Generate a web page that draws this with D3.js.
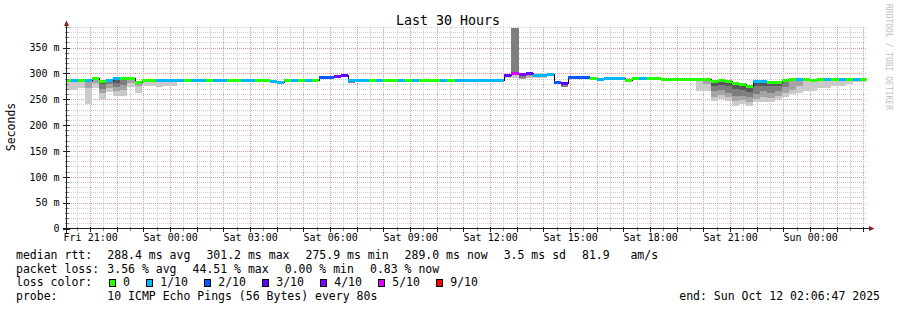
<!DOCTYPE html>
<html>
<head>
<meta charset="utf-8">
<title>Last 30 Hours</title>
<script src="https://cdn.jsdelivr.net/npm/d3@7"></script>
<style>
    body { margin: 0; background: #fff; }
    svg text { font-family: "DejaVu Sans Mono", monospace; fill: #000; }
    .crisp { shape-rendering: crispEdges; }
</style>
</head>
<body>
<svg id="chart" width="897" height="310"></svg>
<script>
var _ = null;

// time window of the graph and the 16 minute consolidation bins
var startTime = new Date(2025, 9, 10, 20, 6, 47);
var endTime = new Date(2025, 9, 12, 2, 6, 47);
var binStart = new Date(2025, 9, 10, 20, 0, 0);
var binMinutes = 16;

// median rtt per bin (ms)
var median = [288,288,288,288,291,286,288,291,291,291,
              284,288,288,288,288,288,288,288,288,288,
              288,288,288,288,288,288,288,288,288,285,
              284,288,288,288,288,288,293,293,295,297,
              288,288,288,288,288,288,288,288,288,288,
              288,288,288,288,288,288,288,288,288,288,
              288,288,296,301,298,301,297,297,298,283,
              281,294,294,293,292,289,291,291,291,287,
              291,291,291,291,289,289,289,289,289,289,
              289,285,287,285,282,280,276,285,285,284,
              283,287,289,289,289,287,289,289,289,289,
              289,289,289];

// lost pings (out of 10) per bin
var loss = [0,1,0,1,0,0,1,1,0,0,
            0,0,0,1,1,1,1,0,1,1,
            0,1,1,0,0,1,1,0,0,1,
            1,0,1,0,1,0,2,2,4,3,
            1,1,1,0,1,0,0,1,0,1,
            0,0,0,1,0,1,1,1,1,1,
            1,1,3,5,4,3,1,1,1,2,
            3,2,2,2,0,1,1,1,1,0,
            0,1,0,0,0,0,0,0,0,0,
            0,0,0,0,0,0,0,1,1,0,
            0,0,0,1,0,0,0,1,0,1,
            0,1,0];

// smoke: lower edges of the ping bands (outer -> inner), ms
var smokeLo1 = [268,268,271,241,271,251,265,257,257,273,
                262,276,276,273,276,276,_,_,_,_,
                _,_,_,_,_,_,_,_,_,_,
                _,_,_,_,_,_,_,_,_,_,
                _,_,_,_,_,_,_,_,_,_,
                _,_,_,_,_,_,_,_,_,_,
                _,_,291,291,_,291,292,292,_,_,
                _,_,_,_,_,_,_,_,_,_,
                _,_,_,_,_,_,_,_,_,266,
                266,247,250,247,237,241,237,244,245,245,
                250,255,260,263,266,266,271,271,275,275,
                280,283,283];
var smokeLo2 = [_,_,_,272,282,262,271,266,268,281,
                276,_,_,_,_,_,_,_,_,_,
                _,_,_,_,_,_,_,_,_,_,
                _,_,_,_,_,_,_,_,_,_,
                _,_,_,_,_,_,_,_,_,_,
                _,_,_,_,_,_,_,_,_,_,
                _,_,_,_,290,294,_,_,_,_,
                _,_,_,_,_,_,_,_,_,_,
                _,_,_,_,_,_,_,_,_,_,
                280,254,258,254,247,249,244,250,254,252,
                257,263,268,275,_,_,_,_,_,_,
                _,_,_];
var smokeLo3 = [_,_,_,283,_,270,279,273,278,_,
                _,_,_,_,_,_,_,_,_,_,
                _,_,_,_,_,_,_,_,_,_,
                _,_,_,_,_,_,_,_,_,_,
                281,_,_,_,_,_,_,_,_,_,
                _,_,_,_,_,_,_,_,_,_,
                _,_,_,_,292,_,_,_,_,_,
                273,_,_,_,_,_,_,_,_,_,
                _,_,_,_,_,_,_,_,_,_,
                _,266,268,263,257,257,254,260,266,262,
                266,273,_,_,_,_,_,_,_,_,
                _,_,_];
var smokeLo4 = [_,_,_,_,_,279,_,281,_,_,
                _,_,_,_,_,_,_,_,_,_,
                _,_,_,_,_,_,_,_,_,_,
                _,_,_,284,_,_,_,_,_,_,
                _,_,_,_,_,_,_,_,_,_,
                _,_,_,_,_,_,_,_,_,_,
                _,_,_,_,_,_,_,_,_,279,
                _,_,_,_,_,_,_,_,_,_,
                _,_,_,_,_,_,_,_,_,_,
                _,276,278,275,270,268,265,275,276,275,
                276,_,_,_,_,_,_,_,_,_,
                _,_,_];
// upper edges where the smoke rises above the median
var smokeHi1 = [_,_,_,_,_,_,_,_,_,_,
                _,_,_,_,_,_,_,_,_,_,
                _,_,_,_,_,_,_,_,_,_,
                _,_,_,_,_,_,_,_,_,_,
                _,_,_,_,_,_,_,_,_,_,
                _,_,_,_,_,_,_,_,_,_,
                _,_,_,_,_,_,301,301,_,_,
                _,_,_,_,_,_,_,_,_,291,
                _,_,_,_,_,_,_,_,_,_,
                _,_,_,_,_,_,_,_,_,_,
                _,_,_,_,_,_,_,_,_,_,
                _,_,_];
var smokeHi3 = [_,_,_,_,_,_,_,_,_,_,
                _,_,_,_,_,_,_,_,_,_,
                _,_,_,_,_,_,_,_,_,_,
                _,_,_,_,_,_,_,_,_,_,
                _,_,_,_,_,_,_,_,_,_,
                _,_,_,_,_,_,_,_,_,_,
                _,_,_,387,_,_,_,_,_,_,
                _,_,_,_,_,_,_,_,_,_,
                _,_,_,_,_,_,_,_,_,_,
                _,_,_,_,_,_,_,_,_,_,
                _,_,_,_,_,_,_,_,_,_,
                _,_,_];

// loss colour buckets
var lossKeys = [0, 1, 2, 3, 4, 5, 9];
var lossLabels = ["0", "1/10", "2/10", "3/10", "4/10", "5/10", "9/10"];
var lossColors = ["#26ff00", "#00b8ff", "#0059ff", "#5e00ff", "#7e00ff", "#dd00ff", "#ff0000"];

// legend values
var rttStats = ["288.4 ms avg", "301.2 ms max", "275.9 ms min", "289.0 ms now", "3.5 ms sd", "81.9   am/s"];
var lossStats = ["3.56 % avg", "44.51 % max", "0.00 % min", "0.83 % now"];
var probeText = "10 ICMP Echo Pings (56 Bytes) every 80s";
var endText = "end: Sun Oct 12 02:06:47 2025";

var svg = d3.select("#chart");
var left = 66.5, right = 866.5, bottom = 228.5;

var x = d3.scaleTime().domain([startTime, endTime]).range([left, right]);
var y = d3.scaleLinear().domain([0, 390]).range([bottom, 26.9]);
var top_ = y(390);

function binTime(i) {
    return new Date(binStart.getTime() + i * binMinutes * 60000);
}
function lossColor(v) {
    for (var k = 0; k < lossKeys.length; k++) {
        if (v <= lossKeys[k]) return lossColors[k];
    }
    return lossColors[lossColors.length - 1];
}
var bins = d3.range(median.length);

svg.append("defs").append("clipPath").attr("id", "plotclip")
    .append("rect")
    .attr("x", left).attr("y", top_)
    .attr("width", right - left).attr("height", bottom - top_);

// grid (dotted, drawn from whole pixels so the dots stay crisp)
var grid = svg.append("g").attr("class", "crisp");
var yMinor = d3.range(10, 391, 10).filter(function (v) { return v % 50 != 0; });
var yMajor = d3.range(50, 391, 50);
var xMinor = d3.timeMinute.every(30).range(startTime, endTime)
    .filter(function (d) { return d.getMinutes() != 0; });
var xMajor = d3.timeHour.range(startTime, endTime);
var gx0 = 67, gx1 = 867, gy0 = 27, gy1 = 228;

function hLines(vals, color) {
    grid.append("g").selectAll("line").data(vals).enter().append("line")
        .attr("x1", gx0).attr("x2", gx1)
        .attr("y1", function (d) { return Math.round(y(d)) + 0.5; })
        .attr("y2", function (d) { return Math.round(y(d)) + 0.5; })
        .attr("stroke", color).attr("stroke-dasharray", "1,1");
}
function vLines(vals, color) {
    grid.append("g").selectAll("line").data(vals).enter().append("line")
        .attr("y1", gy0).attr("y2", gy1)
        .attr("x1", function (d) { return Math.round(x(d)) + 0.5; })
        .attr("x2", function (d) { return Math.round(x(d)) + 0.5; })
        .attr("stroke", color).attr("stroke-dasharray", "1,1");
}
hLines(yMinor, "#cdcdcd");
vLines(xMinor, "#cdcdcd");
hLines(yMajor, "#ec9797");
vLines(xMajor, "#ec9797");

// smoke
var plotG = svg.append("g").attr("clip-path", "url(#plotclip)");
var shades = [
    {lo: smokeLo1, hi: smokeHi1, color: "#cacaca"},
    {lo: smokeLo2, hi: null, color: "#a4a4a4"},
    {lo: smokeLo3, hi: smokeHi3, color: "#7e7e7e"},
    {lo: smokeLo4, hi: null, color: "#585858"}
];
shades.forEach(function (s) {
    var idx = bins.filter(function (i) {
        return s.lo[i] != null || (s.hi && s.hi[i] != null);
    });
    plotG.append("g").attr("class", "crisp").selectAll("rect").data(idx).enter().append("rect")
        .attr("x", function (i) { return Math.round(x(binTime(i))); })
        .attr("width", function (i) { return Math.round(x(binTime(i + 1))) - Math.round(x(binTime(i))); })
        .attr("y", function (i) {
            var h = (s.hi && s.hi[i] != null) ? s.hi[i] : median[i];
            return Math.round(y(h));
        })
        .attr("height", function (i) {
            var h = (s.hi && s.hi[i] != null) ? s.hi[i] : median[i];
            var l = s.lo[i] != null ? s.lo[i] : median[i];
            return Math.max(0, Math.round(y(l)) - Math.round(y(h)));
        })
        .attr("fill", s.color);
});

// median step line
var pts = bins.map(function (i) { return [binTime(i), median[i]]; });
pts.push([binTime(median.length), median[median.length - 1]]);
plotG.append("path")
    .datum(pts)
    .attr("class", "crisp")
    .attr("fill", "none")
    .attr("stroke", "#000")
    .attr("d", d3.line()
        .x(function (d) { return Math.round(x(d[0])) + 0.5; })
        .y(function (d) { return Math.round(y(d[1])) + 0.5; })
        .curve(d3.curveStepAfter));

// median band coloured by loss
plotG.append("g").attr("class", "crisp").selectAll("rect").data(bins).enter().append("rect")
    .attr("x", function (i) { return Math.round(x(binTime(i))); })
    .attr("width", function (i) { return Math.round(x(binTime(i + 1))) - Math.round(x(binTime(i))); })
    .attr("y", function (i) { return Math.round(y(median[i])) - 1; })
    .attr("height", 3)
    .attr("fill", function (i) { return lossColor(loss[i]); });

// axis ticks
var ticks = svg.append("g").attr("class", "crisp");
ticks.selectAll(".ty").data(yMinor.concat(yMajor).concat([0])).enter().append("line")
    .attr("x1", function (d) { return d % 50 == 0 ? left - 4 : left - 2; })
    .attr("x2", function (d) { return d % 50 == 0 ? left + 3 : left + 2; })
    .attr("y1", function (d) { return Math.round(y(d)) + 0.5; })
    .attr("y2", function (d) { return Math.round(y(d)) + 0.5; })
    .attr("stroke", function (d) { return d % 50 == 0 ? "#1f1f1f" : "#888"; });
ticks.selectAll(".tx").data(xMinor.concat(xMajor)).enter().append("line")
    .attr("y1", bottom - 2)
    .attr("y2", function (d) { return d.getMinutes() == 0 ? bottom + 3 : bottom + 2; })
    .attr("x1", function (d) { return Math.round(x(d)) + 0.5; })
    .attr("x2", function (d) { return Math.round(x(d)) + 0.5; })
    .attr("stroke", function (d) { return d.getMinutes() == 0 ? "#1f1f1f" : "#888"; });

// axis lines and arrows
svg.append("line").attr("class", "crisp")
    .attr("x1", left).attr("x2", left).attr("y1", bottom + 4).attr("y2", 23)
    .attr("stroke", "#1f1f1f");
svg.append("line").attr("class", "crisp")
    .attr("x1", left - 4).attr("x2", right + 4).attr("y1", bottom).attr("y2", bottom)
    .attr("stroke", "#1f1f1f");
svg.append("path").attr("d", "M64,26 L69,26 L66.5,20.5 Z").attr("fill", "#801f1f");
svg.append("path").attr("d", "M869,226 L869,231 L874.5,228.5 Z").attr("fill", "#801f1f");

// axis labels
var yAxis = d3.axisLeft(y)
    .tickValues(d3.range(0, 351, 50))
    .tickFormat(function (d) { return d == 0 ? "0" : d + " m"; })
    .tickSize(0).tickPadding(7);
var gy = svg.append("g").attr("transform", "translate(" + left + ",0)").call(yAxis);
gy.select(".domain").remove();
gy.selectAll("text").style("font-family", "DejaVu Sans Mono").style("font-size", "10px").attr("fill", "#000");

var xAxis = d3.axisBottom(x)
    .tickValues(d3.timeHour.every(3).range(startTime, endTime))
    .tickFormat(d3.timeFormat("%a %H:%M"))
    .tickSize(0).tickPadding(5.4);
var gx = svg.append("g").attr("transform", "translate(0," + bottom + ")").call(xAxis);
gx.select(".domain").remove();
gx.selectAll("text").style("font-family", "DejaVu Sans Mono").style("font-size", "10px").attr("fill", "#000");

// titles
svg.append("text").attr("x", 448).attr("y", 24.5).attr("text-anchor", "middle")
    .style("font-size", "13.3px").text("Last 30 Hours");
svg.append("text").attr("transform", "translate(15,127) rotate(-90)").attr("text-anchor", "middle")
    .style("font-size", "11.5px").text("Seconds");
svg.append("text").attr("transform", "translate(885.5,4) rotate(90)")
    .style("font-size", "8px").style("fill", "#c0c0c0")
    .text("RRDTOOL / TOBI OETIKER");

// legend
var lfont = "11.5px";
var gap = 16;
function legendRow(yb, label, items) {
    svg.append("text").attr("x", 16).attr("y", yb).style("font-size", lfont)
        .attr("xml:space", "preserve").style("white-space", "pre").text(label);
    var xc = 107.3;
    items.forEach(function (t) {
        var el = svg.append("text").attr("x", xc).attr("y", yb).style("font-size", lfont)
            .attr("xml:space", "preserve").style("white-space", "pre").text(t);
        xc += el.node().getComputedTextLength() + gap;
    });
}
legendRow(259, "median rtt:", rttStats);
legendRow(272.7, "packet loss:", lossStats);
legendRow(300.1, "probe:", [probeText]);

svg.append("text").attr("x", 16).attr("y", 286.4).style("font-size", lfont).text("loss color:");
var xs = 108.7;
lossLabels.forEach(function (lab, k) {
    svg.append("rect").attr("class", "crisp")
        .attr("x", Math.round(xs) + 0.5).attr("y", 279.5).attr("width", 6).attr("height", 7)
        .attr("fill", lossColors[k]).attr("stroke", "#000");
    var el = svg.append("text").attr("x", xs + 14.3).attr("y", 286.4).style("font-size", lfont).text(lab);
    xs = xs + 14.3 + el.node().getComputedTextLength() + gap;
});

svg.append("text").attr("x", 880).attr("y", 300.1).attr("text-anchor", "end")
    .style("font-size", lfont).text(endText);
</script>
</body>
</html>
